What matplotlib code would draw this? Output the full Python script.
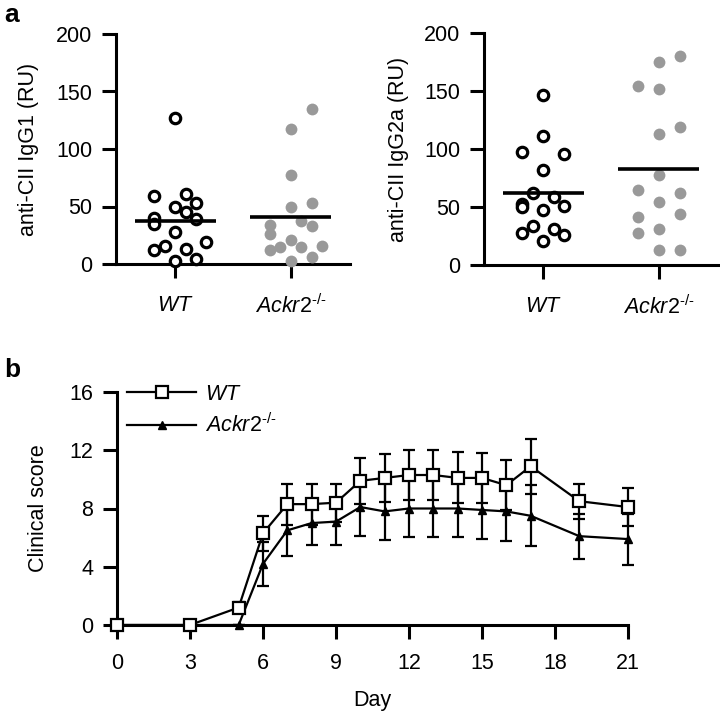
import numpy as np
import matplotlib
matplotlib.use("Agg")
import matplotlib.pyplot as plt
from matplotlib.lines import Line2D

plt.rcParams['font.family'] = ['Liberation Sans', 'DejaVu Sans']
plt.rcParams['mathtext.fontset'] = 'custom'
plt.rcParams['mathtext.rm'] = 'Liberation Sans'
plt.rcParams['mathtext.it'] = 'Liberation Sans:italic'
plt.rcParams['mathtext.bf'] = 'Liberation Sans:bold'

# ---------------- data ----------------
groups = ["WT", "Ackr2"]
igg1_wt = [127, 59, 61, 50, 53, 45, 40, 39, 35, 28, 19, 16, 13, 12, 3, 4]
igg1_wt_off = [0, -2, 1, 0, 2, 1, -2, 2, -2, 0, 3, -1, 1, -2, 0, 2]
igg1_ko = [135, 117, 77, 50, 53, 37, 34, 33, 26, 21, 15, 12, 15, 16, 3, 6]
igg1_ko_off = [2, 0, 0, 0, 2, 1, -2, 2, -2, 0, -1, -2, 1, 3, 0, 2]
igg2a_wt = [146.5, 111, 97, 96, 82, 62, 59, 53, 50, 51, 47, 34, 28, 31, 26, 21]
igg2a_wt_off = [0, 0, -2, 2, 0, -1, 1, -2, -2, 2, 0, -1, -2, 1, 2, 0]
igg2a_ko = [180, 175, 154, 152, 119, 113, 78, 65, 62, 54, 44, 41, 28, 31, 13, 13]
igg2a_ko_off = [2, 0, -2, 0, 2, 0, 0, -2, 2, 0, 2, -2, -2, 0, 0, 2]

days = [0, 3, 5, 6, 7, 8, 9, 10, 11, 12, 13, 14, 15, 16, 17, 19, 21]
wt_mean = [0, 0, 1.2, 6.3, 8.3, 8.3, 8.4, 9.9, 10.1, 10.3, 10.3, 10.1, 10.1, 9.6, 10.9, 8.5, 8.1]
wt_sem = [0, 0, 0.4, 1.2, 1.4, 1.4, 1.3, 1.6, 1.65, 1.75, 1.75, 1.75, 1.7, 1.7, 1.9, 1.2, 1.3]
ko_mean = [0, 0, 0, 4.2, 6.5, 7.0, 7.1, 8.1, 7.8, 8.0, 8.0, 8.0, 7.9, 7.8, 7.5, 6.1, 5.9]
ko_sem = [0, 0, 0, 1.5, 1.75, 1.5, 1.6, 2.0, 1.95, 1.95, 1.95, 1.95, 2.0, 2.05, 2.1, 1.55, 1.75]

W, H = 720, 718
fig = plt.figure(figsize=(W / 100, H / 100), dpi=100)

FS = 15.5
GRAY = '#999999'
LW_AX = 2.2
KO_LABEL = r'$\mathit{Ackr2}^{\text{-/-}}$'
xt_labels = [r'$\mathit{WT}$', KO_LABEL]

def ax_rect(x0, x1, ytop, ybot):
    return [x0 / W, 1 - ybot / H, (x1 - x0) / W, (ybot - ytop) / H]

def style(ax):
    for s in ['top', 'right']:
        ax.spines[s].set_visible(False)
    for s in ['left', 'bottom']:
        ax.spines[s].set_linewidth(LW_AX)
    ax.tick_params(width=LW_AX, length=10, labelsize=FS, pad=7, direction='out')

def scatter_panel(ax, wt, wt_off, ko, ko_off, ylabel, lpad):
    step = 0.09
    xw = 0 + np.array(wt_off) * step
    xk = 1 + np.array(ko_off) * step
    ax.plot(xw, wt, 'o', ms=7.5, mfc='white', mec='black', mew=2.3, ls='none', clip_on=False, zorder=3)
    ax.plot(xk, ko, 'o', ms=8.5, mfc=GRAY, mec=GRAY, mew=0, ls='none', clip_on=False, zorder=3)
    for x, vals in [(0, wt), (1, ko)]:
        m = np.mean(vals)
        ax.plot([x - 0.35, x + 0.35], [m, m], color='black', lw=2.6, solid_capstyle='butt', zorder=4)
    ax.set_xlim(-0.51, 1.51)
    ax.set_ylim(0, 200)
    ax.set_yticks([0, 50, 100, 150, 200])
    ax.set_xticks([0, 1])
    ax.set_xticklabels(xt_labels)
    ax.set_ylabel(ylabel, fontsize=FS, labelpad=lpad)
    style(ax)
    ax.tick_params(axis='x', pad=12)

ax1 = fig.add_axes(ax_rect(116, 350, 34, 264))
scatter_panel(ax1, igg1_wt, igg1_wt_off, igg1_ko, igg1_ko_off, 'anti-CII IgG1 (RU)', 12)
ax2 = fig.add_axes(ax_rect(484, 718, 33, 265))
scatter_panel(ax2, igg2a_wt, igg2a_wt_off, igg2a_ko, igg2a_ko_off, 'anti-CII IgG2a (RU)', 11)

ax3 = fig.add_axes(ax_rect(117, 628, 392, 625))
ax3.errorbar(days, ko_mean, yerr=ko_sem, color='black', lw=1.6, elinewidth=1.6, capsize=4, capthick=1.6,
             marker='^', ms=6, mfc='black', mec='black', clip_on=False, zorder=3)
ax3.errorbar(days, wt_mean, yerr=wt_sem, color='black', lw=1.6, elinewidth=1.6, capsize=4, capthick=1.6,
             marker='s', ms=9, mfc='white', mec='black', mew=1.6, clip_on=False, zorder=4)
ax3.set_xlim(0, 21)
ax3.set_ylim(0, 16)
ax3.set_xticks([0, 3, 6, 9, 12, 15, 18, 21])
ax3.set_yticks([0, 4, 8, 12, 16])
ax3.set_xlabel('Day', fontsize=FS, labelpad=12)
ax3.set_ylabel('Clinical score', fontsize=FS, labelpad=15)
style(ax3)
ax3.tick_params(axis='x', pad=10)
handles = [Line2D([], [], color='black', lw=1.6, marker='s', ms=9, mfc='white', mec='black', mew=1.6),
           Line2D([], [], color='black', lw=1.6, marker='^', ms=6, mfc='black', mec='black')]
leg = ax3.legend(handles, [r'$\mathit{WT}$', KO_LABEL], loc='upper left', bbox_to_anchor=(0.02, 1.035),
                 frameon=False, fontsize=FS, handlelength=3.2, handletextpad=0.4, labelspacing=0.4,
                 borderpad=0, borderaxespad=0)

fig.text(4 / W, 1 - 22 / H, 'a', fontsize=19, fontweight='bold')
fig.text(4 / W, 1 - 377 / H, 'b', fontsize=19, fontweight='bold')

fig.savefig('out.png', dpi=100)
